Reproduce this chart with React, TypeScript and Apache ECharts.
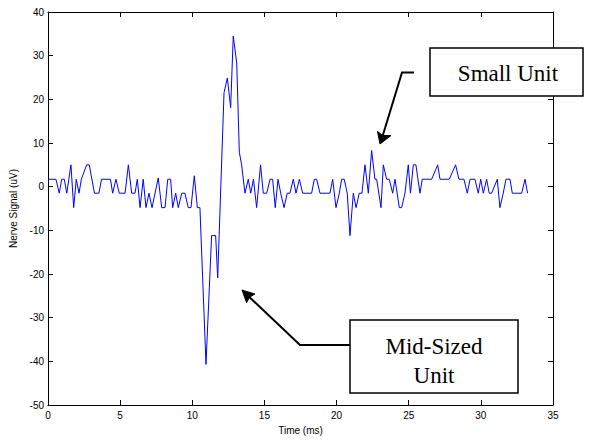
import React, { useEffect, useRef } from "react";
import * as echarts from "echarts";

// Vertex times (ms) and nerve signal values (uV)
const signalTime = [
  0, 0.55, 0.78, 0.95, 1.13, 1.3, 1.59, 1.78, 1.96, 2.15, 2.31, 2.68, 2.86, 3.22, 3.53, 3.71,
  4.33, 4.48, 4.71, 4.94, 5.34, 5.57, 5.8, 6.03, 6.19, 6.38, 6.6, 6.79, 7.0, 7.21, 7.64, 7.88,
  8.11, 8.3, 8.5, 8.64, 8.85, 9.03, 9.27, 9.49, 9.72, 9.91, 10.14, 10.35, 10.53, 10.95, 11.34,
  11.62, 11.76, 12.2, 12.43, 12.66, 12.84, 13.08, 13.26, 13.42, 13.65, 13.88, 14.05, 14.24,
  14.46, 14.73, 14.92, 15.16, 15.39, 15.57, 15.75, 15.94, 16.13, 16.36, 16.58, 16.77, 17.0,
  17.19, 17.42, 17.65, 18.27, 18.46, 18.62, 18.85, 19.54, 19.73, 19.96, 20.19, 20.35, 20.53,
  20.74, 20.93, 21.16, 21.35, 21.57, 21.76, 21.97, 22.2, 22.43, 22.66, 22.78, 23.08, 23.24,
  23.47, 23.65, 23.89, 24.05, 24.35, 24.51, 24.74, 24.97, 25.12, 25.32, 25.5, 25.78, 25.94,
  26.59, 27.01, 27.17, 27.81, 28.25, 28.48, 28.83, 29.06, 29.25, 29.59, 29.82, 29.99, 30.17,
  30.4, 30.58, 30.75, 31.14, 31.32, 31.55, 31.74, 32.02, 32.18, 32.83, 33.06, 33.24,
];
const signalValue = [
  1.7, 1.7, -1.5, 1.7, 1.7, -1.5, 5, -4.8, 1.7, -1.5, 1.7, 5, 5, -1.5, -1.5, 1.7,
  1.7, -1.5, 1.7, -1.5, -1.5, 5, -1.5, -1.5, 1.7, -4.8, 1.7, -4.8, -1.5, -4.8, 2, -4.8,
  -4.8, 1.7, 1.7, -4.8, -1.5, -4.8, -1.5, -1.5, -4.8, -4.8, 2.5, -4.8, -4.8, -40.7, -11.2,
  -11.2, -20.9, 21.5, 24.9, 18.1, 34.5, 28.3, 7.9, 5, -1.5, 1.7, -1.5, 1.7,
  -4.8, 5, -1.5, -1.5, 1.7, 1.7, -4.8, 1.7, -1.5, -4.8, -1.5, -1.5, 1.7,
  -1.5, 1.7, -1.5, -1.5, 1.7, 1.7, -1.5, -1.5, 1.7, -4.8, -1.5, 1.7, 1.7,
  -1.5, -11.2, -1.5, -4.8, -1.5, -1.5, 5, -1.5, 8.3, 1.7, 1.7, -4.8, 5,
  1.7, 1.7, -1.5, 1.7, -4.8, -4.8, -1.5, 5, -1.5, 5, 5, -1.5, 1.7,
  1.7, 5, 1.7, 1.7, 5, 1.7, 1.7, -1.5, 1.7, 1.7, -1.5, 1.7, -1.5,
  1.7, -1.5, -1.5, 1.7, -4.8, -1.5, 1.7, 1.7, -1.5, -1.5, 1.7, -1.5,
];

const xTicks = { min: 0, max: 35, interval: 5 };
const yTicks = { min: -50, max: 40, interval: 10 };
const xName = "Time (ms)";
const yName = "Nerve Signal (uV)";
const smallLabel = "Small Unit";
const midLabel = ["Mid-Sized", "Unit"];

const FONT = "Liberation Sans, Arial, sans-serif";
const SERIF = '"Liberation Serif", "Times New Roman", serif';

export default function App() {
  const ref = useRef<HTMLDivElement>(null);

  useEffect(() => {
    document.body.style.margin = "0";
    const chart = echarts.init(ref.current!, null, { renderer: "svg" });

    const axisCommon = {
      axisLine: { show: true, onZero: false, lineStyle: { color: "#000", width: 1 } },
      axisTick: { show: true, inside: true, length: 5, lineStyle: { color: "#000" } },
      splitLine: { show: false },
    };

    const textStyle = (x: number, y: number, text: string) => ({
      type: "text",
      z: 110,
      style: {
        text,
        x,
        y,
        font: `23px ${SERIF}`,
        fill: "#000",
        textAlign: "center",
        textVerticalAlign: "middle",
        align: "center",
        verticalAlign: "middle",
      },
    });

    chart.setOption({
      animation: false,
      backgroundColor: "#fff",
      grid: { left: 48, right: 41, top: 12, bottom: 32, containLabel: false },
      xAxis: [
        {
          type: "value",
          position: "bottom",
          ...xTicks,
          ...axisCommon,
          axisLabel: { color: "#000", fontSize: 10, fontFamily: FONT, margin: 5 },
          name: xName,
          nameLocation: "middle",
          nameGap: 20,
          nameTextStyle: { color: "#000", fontSize: 10, fontFamily: FONT },
        },
        {
          type: "value",
          position: "top",
          ...xTicks,
          ...axisCommon,
          axisLabel: { show: false },
        },
      ],
      yAxis: [
        {
          type: "value",
          position: "left",
          ...yTicks,
          ...axisCommon,
          axisLabel: { color: "#000", fontSize: 10, fontFamily: FONT, margin: 4 },
          name: yName,
          nameLocation: "middle",
          nameGap: 27,
          nameRotate: 90,
          nameTextStyle: { color: "#000", fontSize: 10, fontFamily: FONT },
        },
        {
          type: "value",
          position: "right",
          ...yTicks,
          ...axisCommon,
          axisLabel: { show: false },
        },
      ],
      series: [
        {
          type: "line",
          xAxisIndex: 0,
          yAxisIndex: 0,
          data: signalTime.map((t, i) => [t, signalValue[i]]),
          showSymbol: false,
          symbol: "none",
          lineStyle: { color: "#0000ff", width: 1 },
          z: 5,
        },
      ],
      graphic: [
        {
          type: "rect",
          z: 100,
          shape: { x: 430, y: 48, width: 153, height: 48 },
          style: { fill: "#fff", stroke: "#000", lineWidth: 1.5 },
        },
        textStyle(508, 73, smallLabel),
        {
          type: "polyline",
          z: 100,
          shape: { points: [[414, 72.5], [402, 72.5], [382.4, 136.7]] },
          style: { stroke: "#000", lineWidth: 2, fill: null },
        },
        {
          type: "polygon",
          z: 101,
          shape: { points: [[380, 144], [377.5, 131.5], [382.6, 135.5], [391, 135.5]] },
          style: { fill: "#000", stroke: "#000", lineWidth: 1 },
        },
        {
          type: "rect",
          z: 100,
          shape: { x: 350, y: 320, width: 168, height: 73 },
          style: { fill: "#fff", stroke: "#000", lineWidth: 1.5 },
        },
        textStyle(434, 346, midLabel[0]),
        textStyle(434, 375, midLabel[1]),
        {
          type: "polyline",
          z: 100,
          shape: { points: [[350, 345], [300, 345], [248.5, 296.2]] },
          style: { stroke: "#000", lineWidth: 2, fill: null },
        },
        {
          type: "polygon",
          z: 101,
          shape: { points: [[242, 290], [254.8, 294], [249.5, 297.2], [246.6, 302.7]] },
          style: { fill: "#000", stroke: "#000", lineWidth: 1 },
        },
      ],
    });

    return () => chart.dispose();
  }, []);

  return (
    <div
      ref={ref}
      style={{ position: "absolute", left: 0, top: 0, width: 594, height: 440 }}
    />
  );
}
